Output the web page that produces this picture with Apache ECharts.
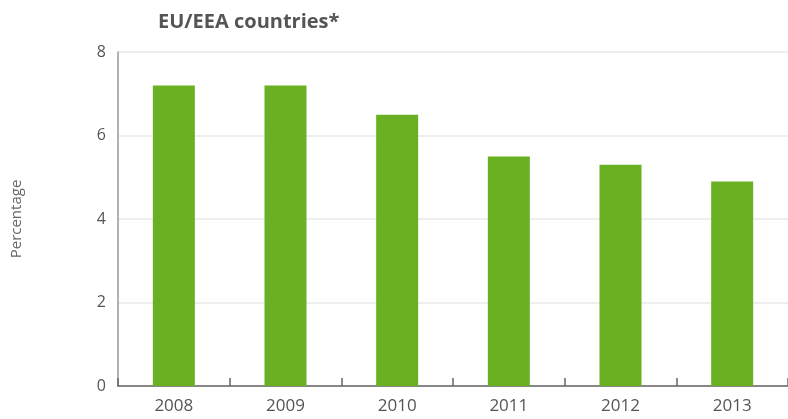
<!DOCTYPE html>
<html lang="en">

<head>
    <meta charset="UTF-8">
    <title>EU/EEA countries</title>
    <style>
        * {
            margin: 0;
            padding: 0;
        }

        #main {
            width: 788px;
            height: 419px;
        }
    </style>
</head>

<body>
    <div id="main"></div>
</body>
<script src="https://cdn.jsdelivr.net/npm/echarts@6/dist/echarts.min.js"></script>
<script>
    let years = ['2008', '2009', '2010', '2011', '2012', '2013'];
    let percentage = [7.2, 7.2, 6.5, 5.5, 5.3, 4.9];

    let option = {
        animation: false,
        textStyle: {
            fontFamily: 'Open Sans'
        },
        title: {
            text: 'EU/EEA countries*',
            left: 153,
            top: 7,
            textStyle: {
                fontSize: 20,
                fontWeight: 'bold',
                color: '#555'
            }
        },
        grid: {
            left: 118,
            top: 52,
            width: 675,
            height: 334
        },
        xAxis: {
            type: 'category',
            data: years,
            axisLine: {
                lineStyle: { color: '#666', width: 1.5 }
            },
            axisTick: {
                show: true,
                inside: true,
                length: 8,
                lineStyle: { color: '#666', width: 1.5 }
            },
            axisLabel: {
                margin: 12,
                fontSize: 17,
                color: '#555'
            }
        },
        yAxis: {
            type: 'value',
            min: 0,
            max: 8,
            interval: 2,
            name: 'Percentage',
            nameLocation: 'middle',
            nameGap: 94,
            nameTextStyle: {
                fontSize: 15,
                color: '#666'
            },
            axisLine: {
                show: true,
                lineStyle: { color: '#999', width: 1.5 }
            },
            axisTick: { show: false },
            axisLabel: {
                margin: 12,
                fontSize: 16,
                color: '#555'
            },
            splitLine: {
                lineStyle: { color: '#e8e8e8', width: 1.5 }
            }
        },
        series: [{
            type: 'bar',
            data: percentage,
            barWidth: 42,
            itemStyle: {
                color: '#6ab023'
            }
        }]
    };

    let myCharts = echarts.init(document.getElementById('main'));
    myCharts.setOption(option);
</script>

</html>
